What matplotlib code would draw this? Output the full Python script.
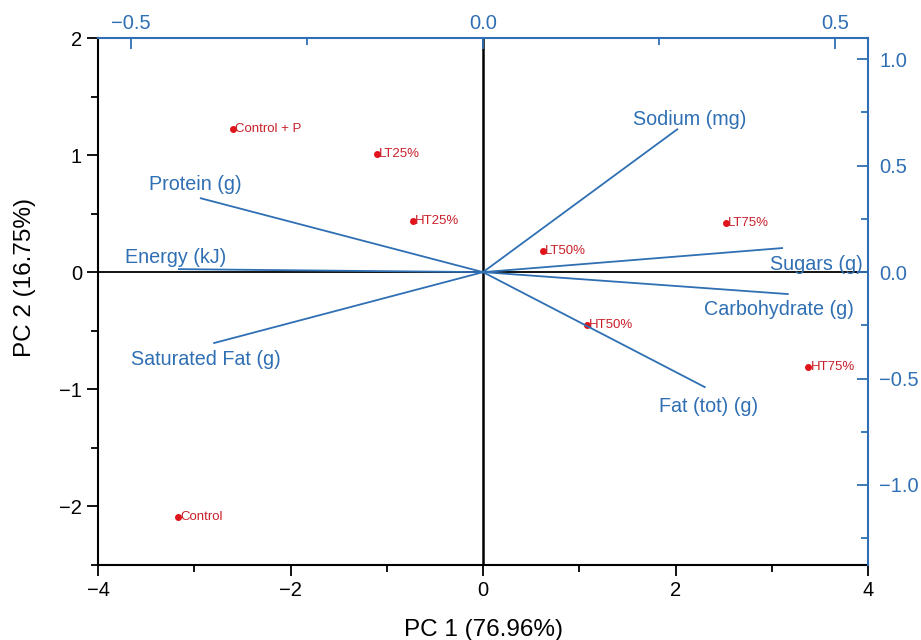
import matplotlib
matplotlib.use("Agg")
import matplotlib.pyplot as plt
from matplotlib.ticker import MultipleLocator

plt.rcParams["font.family"] = ["Liberation Sans", "DejaVu Sans"]

# scores (PC1, PC2)
samples = ["Control + P", "LT25%", "HT25%", "LT50%", "LT75%", "HT50%", "HT75%", "Control"]
pc1 = [-2.60, -1.10, -0.73, 0.62, 2.52, 1.08, 3.38, -3.17]
pc2 = [1.22, 1.01, 0.44, 0.18, 0.42, -0.45, -0.81, -2.09]

# loadings (top / right axes)
variables = ["Sodium (mg)", "Protein (g)", "Energy (kJ)", "Saturated Fat (g)",
             "Sugars (g)", "Carbohydrate (g)", "Fat (tot) (g)"]
load1 = [0.276, -0.401, -0.432, -0.382, 0.425, 0.433, 0.315]
load2 = [0.671, 0.347, 0.014, -0.333, 0.113, -0.103, -0.540]

BLUE = "#2f6fb3"
RED = "#e0141b"

fig = plt.figure(figsize=(9.21, 6.4), dpi=100)
rect = [98 / 921, 75 / 640, 770 / 921, 527 / 640]
ax = fig.add_axes(rect)
ax.set_xlim(-4, 4); ax.set_ylim(-2.5, 2)
ax.axhline(0, color="black", lw=1.3, zorder=1)
ax.axvline(0, color="black", lw=1.8, zorder=1)
ax.scatter(pc1, pc2, s=16, color=RED, zorder=4)
for n, x, y in zip(samples, pc1, pc2):
    ax.annotate(n, (x, y), xytext=(1.5, 0), textcoords="offset points",
                va="center", ha="left", fontsize=9.5, color="#c8202a", zorder=5)

ax.xaxis.set_major_locator(MultipleLocator(2)); ax.xaxis.set_minor_locator(MultipleLocator(1))
ax.yaxis.set_major_locator(MultipleLocator(1)); ax.yaxis.set_minor_locator(MultipleLocator(0.5))
ax.tick_params(which="both", direction="out", labelsize=14.5, width=1.3)
ax.tick_params(which="major", length=8); ax.tick_params(which="minor", length=5)
ax.set_xlabel("PC 1 (76.96%)", fontsize=17.5)
ax.set_ylabel("PC 2 (16.75%)", fontsize=17.5)
ax.xaxis.set_label_coords(0.5, -0.102)
ax.yaxis.set_label_coords(-0.08, 0.546)
for s in ["left", "bottom"]:
    ax.spines[s].set_linewidth(1.5)
ax.spines["top"].set_visible(False); ax.spines["right"].set_visible(False)

# loading axes
ax2 = fig.add_axes(rect)
ax2.patch.set_visible(False)
ax2.set_xlim(-0.547, 0.547); ax2.set_ylim(-1.376, 1.1)
ax2.xaxis.tick_top(); ax2.yaxis.tick_right()
ax2.xaxis.set_major_locator(MultipleLocator(0.5)); ax2.xaxis.set_minor_locator(MultipleLocator(0.25))
ax2.yaxis.set_major_locator(MultipleLocator(0.5)); ax2.yaxis.set_minor_locator(MultipleLocator(0.25))
ax2.tick_params(which="both", direction="in", colors=BLUE, labelsize=14.5, width=1.3)
ax2.tick_params(which="major", length=8); ax2.tick_params(which="minor", length=5)
ax2.tick_params(axis="y", pad=8)
ax2.spines["top"].set_color(BLUE); ax2.spines["right"].set_color(BLUE)
ax2.spines["top"].set_linewidth(1.5); ax2.spines["right"].set_linewidth(1.5)
ax2.spines["left"].set_visible(False); ax2.spines["bottom"].set_visible(False)

for x, y in zip(load1, load2):
    ax2.plot([0, x], [0, y], color=BLUE, lw=1.3, zorder=3)

# label offsets (pixels) from line end
offs = {"Sodium (mg)": (12, 10), "Protein (g)": (-5, 14), "Energy (kJ)": (-3, 12),
        "Saturated Fat (g)": (-8, -16), "Sugars (g)": (34, -16),
        "Carbohydrate (g)": (-9, -15), "Fat (tot) (g)": (4, -19)}
for n, x, y in zip(variables, load1, load2):
    dx, dy = offs[n]
    ax2.annotate(n, (x, y), xytext=(dx * 0.72, dy * 0.72), textcoords="offset points",
                 ha="center", va="center", fontsize=14.2, color=BLUE, zorder=5)

fig.savefig("out.png", dpi=100)
